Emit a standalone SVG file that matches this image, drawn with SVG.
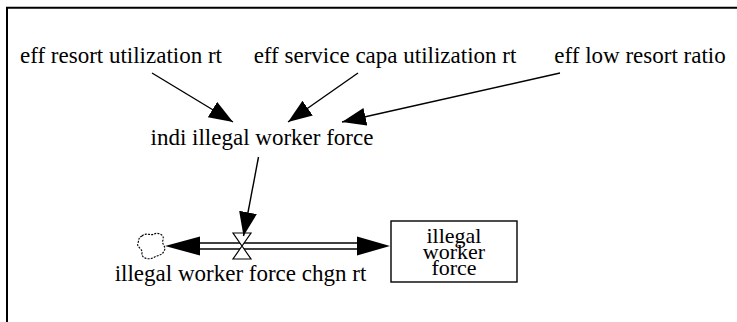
<svg xmlns="http://www.w3.org/2000/svg" width="737" height="322" viewBox="0 0 737 322">
  <style>
    .lbl { font-family: "Liberation Serif", "Times New Roman", serif; font-size: 23px; fill: #000; text-anchor: middle; }
    .box-lbl { font-family: "Liberation Serif", "Times New Roman", serif; font-size: 22px; fill: #000; text-anchor: middle; }
    .link { stroke: #000; stroke-width: 1.4; fill: none; marker-end: url(#head); }
    .pipe { stroke: #000; stroke-width: 1.6; fill: none; }
    .frame { stroke: #000; stroke-width: 2; fill: none; }
  </style>
  <defs>
    <marker id="head" markerUnits="userSpaceOnUse" markerWidth="26" markerHeight="20" refX="24" refY="9" orient="auto">
      <path d="M0,0 L24,9 L0,18 Z" fill="#000"/>
    </marker>
  </defs>

  <rect width="737" height="322" fill="#fff"/>
  <path class="frame" d="M7,322 V7.7 H737"/>

  <g id="eff-resort-utilization-rt">
    <text class="lbl" x="121" y="63">eff resort utilization rt</text>
  </g>
  <g id="eff-service-capa-utilization-rt">
    <text class="lbl" x="385" y="63">eff service capa utilization rt</text>
  </g>
  <g id="eff-low-resort-ratio">
    <text class="lbl" x="640" y="63">eff low resort ratio</text>
  </g>
  <g id="indi-illegal-worker-force">
    <text class="lbl" x="262" y="145">indi illegal worker force</text>
  </g>

  <g id="illegal-worker-force">
    <rect x="391" y="221" width="126" height="61" fill="#fff" stroke="#000" stroke-width="1.4"/>
    <text class="box-lbl" x="454" y="243">illegal</text>
    <text class="box-lbl" x="454" y="259">worker</text>
    <text class="box-lbl" x="454" y="275">force</text>
  </g>

  <g id="source-cloud">
    <path d="M142,236 C146,232 151,236 154,234 C158,232 165,235 163,240 C161,244 167,247 164,251 C162,256 157,255 153,258 C148,260 141,258 142,253 C143,249 136,247 138,243 C139,240 138,238 142,236 Z"
          fill="#fff" stroke="#000" stroke-width="1.1" stroke-dasharray="2,1.2"/>
  </g>

  <g id="connectors">
    <line class="link" x1="152" y1="73" x2="233" y2="122"/>
    <line class="link" x1="358" y1="73" x2="288" y2="122"/>
    <line class="link" x1="560" y1="73" x2="342" y2="122"/>

    <!-- flow pipe with both end arrows -->
    <line class="pipe" x1="195" y1="243" x2="362" y2="243"/>
    <line class="pipe" x1="195" y1="249" x2="362" y2="249"/>
    <path d="M165,246 L200,236.5 L200,255.5 Z" fill="#000"/>
    <path d="M390,246 L357,236.5 L357,255.5 Z" fill="#000"/>
  </g>

  <g id="illegal-worker-force-chgn-rt">
    <path d="M233,233 H251 L242,246 Z M242,246 L251,259 H233 Z" fill="#fff" stroke="#000" stroke-width="1.2" stroke-linejoin="miter"/>
    <text class="lbl" x="240.5" y="281">illegal worker force chgn rt</text>
  </g>

  <g id="valve-link">
    <line class="link" x1="258.5" y1="157" x2="243.5" y2="236"/>
  </g>
</svg>
